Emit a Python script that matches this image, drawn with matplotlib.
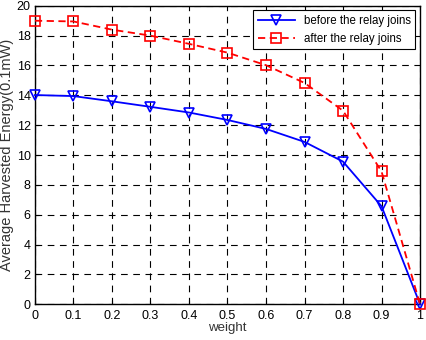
import matplotlib
matplotlib.use("Agg")
import matplotlib.pyplot as plt

plt.rcParams['font.family'] = ['Liberation Sans', 'DejaVu Sans']

weight = [0, 0.1, 0.2, 0.3, 0.4, 0.5, 0.6, 0.7, 0.8, 0.9, 1.0]
before = [14.02, 13.95, 13.6, 13.23, 12.85, 12.35, 11.75, 10.88, 9.56, 6.57, 0.0]
after = [19.0, 18.95, 18.4, 18.0, 17.45, 16.86, 16.02, 14.83, 12.97, 8.9, 0.0]
xticks = [0, 0.1, 0.2, 0.3, 0.4, 0.5, 0.6, 0.7, 0.8, 0.9, 1]
xlabels = ["0", "0.1", "0.2", "0.3", "0.4", "0.5", "0.6", "0.7", "0.8", "0.9", "1"]

fig = plt.figure(figsize=(4.26, 3.4), dpi=100)
ax = fig.add_axes([0.082, 0.105, 0.904, 0.878])

ax.plot(weight, before, '-', color='#0000ff', marker='v', markersize=7.5,
        markerfacecolor='none', markeredgewidth=1.2, linewidth=1.3,
        label="before the relay joins", clip_on=False, zorder=3)
ax.plot(weight, after, '--', color='#ff0000', marker='s', markersize=6.5,
        markerfacecolor='none', markeredgewidth=1.2, linewidth=1.3,
        dashes=(4, 2.5), label="after the relay joins", clip_on=False, zorder=3)

ax.set_xlim(0, 1)
ax.set_ylim(0, 20)
ax.set_xticks(xticks)
ax.set_xticklabels(xlabels)
ax.set_yticks(range(0, 21, 2))
ax.tick_params(direction='in', labelsize=9, length=3, colors='black')
ax.tick_params(axis='x', pad=4)
ax.tick_params(axis='y', pad=3)
ax.grid(True, color='black', linestyle=(0, (6, 5)), linewidth=0.8)
for s in ax.spines.values():
    s.set_linewidth(1.0)

ax.set_xlabel("weight", fontsize=9.5, color='#333333')
ax.set_ylabel("Average Harvested Energy(0.1mW)", fontsize=10.5, color='#333333')
ax.xaxis.set_label_coords(0.5, -0.06)
ax.yaxis.set_label_coords(-0.055, 0.5)

leg = ax.legend(loc='upper right', fontsize=8.3, fancybox=False, framealpha=1,
                edgecolor='black', borderaxespad=0.4, handlelength=3.2)
leg.get_frame().set_linewidth(0.8)

fig.savefig("out.png", dpi=100)
